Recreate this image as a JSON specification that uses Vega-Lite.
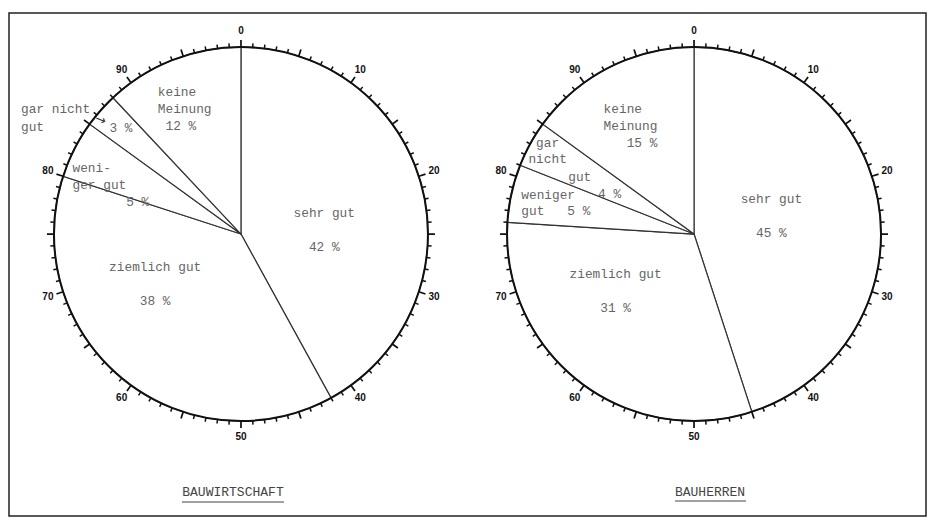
{
  "$schema": "https://vega.github.io/schema/vega-lite/v6.json",
  "width": 933,
  "height": 518,
  "autosize": {"type": "fit", "contains": "padding"},
  "padding": {"left": 9, "top": 13, "right": 7, "bottom": 2},
  "background": "white",
  "config": {"view": {"stroke": "#222", "strokeWidth": 1.5}},
  "datasets": {
    "slices": [
      {"group": "BAUWIRTSCHAFT", "cat": "sehr gut", "order": 1, "value": 42, "label": "sehr gut\n\u200b\n42 %", "label_z": "", "label_s": "", "label_w": "", "label_g": "", "label_g2": "", "label_g3": "", "outer": "", "arrow": ""},
      {"group": "BAUWIRTSCHAFT", "cat": "ziemlich gut", "order": 2, "value": 38, "label": "", "label_z": "ziemlich gut\n\u200b\n38 %", "label_s": "", "label_w": "", "label_g": "", "label_g2": "", "label_g3": "", "outer": "", "arrow": ""},
      {"group": "BAUWIRTSCHAFT", "cat": "weniger gut", "order": 3, "value": 5, "label": "weni-\u00a0\u00a0\u00a0\u00a0\u00a0\u200b\nger gut\u00a0\u00a0\u00a0\u200b\n\u200b\u00a0\u00a0\u00a0\u00a0\u00a0\u00a0\u00a05 %", "label_z": "", "label_s": "", "label_w": "", "label_g": "", "label_g2": "", "label_g3": "", "outer": "", "arrow": ""},
      {"group": "BAUWIRTSCHAFT", "cat": "gar nicht gut", "order": 4, "value": 3, "label": "3 %", "label_z": "", "label_s": "", "label_w": "", "label_g": "", "label_g2": "", "label_g3": "", "outer": "gar nicht\ngut\u00a0\u00a0\u00a0\u00a0\u00a0\u00a0\u200b", "arrow": "\u2192"},
      {"group": "BAUWIRTSCHAFT", "cat": "keine Meinung", "order": 5, "value": 12, "label": "keine\u00a0\u00a0\u200b\nMeinung\n\u200b\u00a012 %\u00a0\u00a0\u200b", "label_z": "", "label_s": "", "label_w": "", "label_g": "", "label_g2": "", "label_g3": "", "outer": "", "arrow": ""},
      {"group": "BAUHERREN", "cat": "sehr gut", "order": 1, "value": 45, "label": "", "label_z": "", "label_s": "sehr gut\n\u200b\n45 %", "label_w": "", "label_g": "", "label_g2": "", "label_g3": "", "outer": "", "arrow": ""},
      {"group": "BAUHERREN", "cat": "ziemlich gut", "order": 2, "value": 31, "label": "", "label_z": "ziemlich gut\n\u200b\n31 %", "label_s": "", "label_w": "", "label_g": "", "label_g2": "", "label_g3": "", "outer": "", "arrow": ""},
      {"group": "BAUHERREN", "cat": "weniger gut", "order": 3, "value": 5, "label": "", "label_z": "", "label_s": "", "label_w": "weniger\ngut\u00a0\u00a0\u00a05 %", "label_g": "", "label_g2": "", "label_g3": "", "outer": "", "arrow": ""},
      {"group": "BAUHERREN", "cat": "gar nicht gut", "order": 4, "value": 4, "label": "", "label_z": "", "label_s": "", "label_w": "", "label_g": "\u200b\u00a0gar\nnicht", "label_g2": "gut", "label_g3": "4 %", "outer": "", "arrow": ""},
      {"group": "BAUHERREN", "cat": "keine Meinung", "order": 5, "value": 15, "label": "keine\u00a0\u00a0\u200b\nMeinung\n\u200b\u00a0\u00a0\u00a015 %", "label_z": "", "label_s": "", "label_w": "", "label_g": "", "label_g2": "", "label_g3": "", "outer": "", "arrow": ""}
    ],
    "ticks": [
      {"t": 0}, {"t": 1}, {"t": 2}, {"t": 3}, {"t": 4}, {"t": 5}, {"t": 6}, {"t": 7}, {"t": 8}, {"t": 9},
      {"t": 10}, {"t": 11}, {"t": 12}, {"t": 13}, {"t": 14}, {"t": 15}, {"t": 16}, {"t": 17}, {"t": 18}, {"t": 19},
      {"t": 20}, {"t": 21}, {"t": 22}, {"t": 23}, {"t": 24}, {"t": 25}, {"t": 26}, {"t": 27}, {"t": 28}, {"t": 29},
      {"t": 30}, {"t": 31}, {"t": 32}, {"t": 33}, {"t": 34}, {"t": 35}, {"t": 36}, {"t": 37}, {"t": 38}, {"t": 39},
      {"t": 40}, {"t": 41}, {"t": 42}, {"t": 43}, {"t": 44}, {"t": 45}, {"t": 46}, {"t": 47}, {"t": 48}, {"t": 49},
      {"t": 50}, {"t": 51}, {"t": 52}, {"t": 53}, {"t": 54}, {"t": 55}, {"t": 56}, {"t": 57}, {"t": 58}, {"t": 59},
      {"t": 60}, {"t": 61}, {"t": 62}, {"t": 63}, {"t": 64}, {"t": 65}, {"t": 66}, {"t": 67}, {"t": 68}, {"t": 69},
      {"t": 70}, {"t": 71}, {"t": 72}, {"t": 73}, {"t": 74}, {"t": 75}, {"t": 76}, {"t": 77}, {"t": 78}, {"t": 79},
      {"t": 80}, {"t": 81}, {"t": 82}, {"t": 83}, {"t": 84}, {"t": 85}, {"t": 86}, {"t": 87}, {"t": 88}, {"t": 89},
      {"t": 90}, {"t": 91}, {"t": 92}, {"t": 93}, {"t": 94}, {"t": 95}, {"t": 96}, {"t": 97}, {"t": 98}, {"t": 99}
    ]
  },
  "layer": [
    {
      "encoding": {
        "x": {"datum": "BAUWIRTSCHAFT", "type": "nominal", "scale": {"type": "point", "domain": ["BAUWIRTSCHAFT", "BAUHERREN"], "padding": 0.512, "align": 0.5}, "axis": null},
        "y": {"datum": "pie", "type": "nominal", "scale": {"type": "point", "domain": ["pie", "title"], "padding": 0.475, "align": 0.902}, "axis": null}
      },
      "layer": [
        {
          "data": {"name": "slices"},
          "transform": [{"filter": {"field": "group", "equal": "BAUWIRTSCHAFT"}}],
          "mark": {"type": "arc", "radius": 187, "fill": "white", "stroke": "#333", "strokeWidth": 1.2},
          "encoding": {
            "theta": {"field": "value", "type": "quantitative", "stack": true, "scale": {"domain": [0, 100]}},
            "order": {"field": "order", "type": "quantitative"}
          }
        },
        {
          "data": {"values": [{"c": 1}]},
          "mark": {"type": "arc", "radius": 187, "theta": 0, "theta2": 6.2832, "fillOpacity": 0, "stroke": "#111", "strokeWidth": 2}
        },
        {
          "data": {"name": "ticks"},
          "transform": [{"filter": "datum.t % 5 != 0"}],
          "mark": {"type": "arc", "radius": 191, "radius2": 187, "thetaOffset": -0.004, "theta2Offset": 0.004, "fill": "#111"},
          "encoding": {"theta": {"field": "t", "type": "quantitative"}, "theta2": {"field": "t"}}
        },
        {
          "data": {"name": "ticks"},
          "transform": [{"filter": "datum.t % 5 == 0"}],
          "mark": {"type": "arc", "radius": 194, "radius2": 187, "thetaOffset": -0.0045, "theta2Offset": 0.0045, "fill": "#111"},
          "encoding": {"theta": {"field": "t", "type": "quantitative"}, "theta2": {"field": "t"}}
        },
        {
          "data": {"name": "ticks"},
          "transform": [{"filter": "datum.t % 10 == 0"}],
          "mark": {"type": "text", "radius": 203, "font": "Liberation Sans", "fontWeight": "bold", "fontSize": 10, "color": "#111", "baseline": "middle", "align": "center"},
          "encoding": {"theta": {"field": "t", "type": "quantitative"}, "text": {"field": "t", "type": "quantitative"}}
        },
        {
          "data": {"name": "slices"},
          "transform": [{"filter": {"field": "group", "equal": "BAUWIRTSCHAFT"}}],
          "mark": {"type": "text", "font": "Liberation Mono", "fontSize": 12.8, "color": "#666", "lineBreak": "\n", "lineHeight": 17, "baseline": "middle", "align": "center"},
          "encoding": {
            "theta": {"field": "value", "type": "quantitative", "stack": true},
            "order": {"field": "order", "type": "quantitative"},
            "radius": {"field": "value", "type": "quantitative", "scale": {"type": "linear", "zero": false, "domain": [3, 5, 12, 15, 45], "range": [160, 146, 153, 140, 80]}},
            "text": {"field": "label", "type": "nominal"}
          }
        },
        {
          "data": {"name": "slices"},
          "transform": [{"filter": {"field": "group", "equal": "BAUWIRTSCHAFT"}}],
          "mark": {"type": "text", "radius": 92, "thetaOffset": 0.51, "font": "Liberation Mono", "fontSize": 12.8, "color": "#666", "lineBreak": "\n", "lineHeight": 17, "baseline": "middle", "align": "center"},
          "encoding": {
            "theta": {"field": "value", "type": "quantitative", "stack": true},
            "order": {"field": "order", "type": "quantitative"},
            "text": {"field": "label_z", "type": "nominal"}
          }
        },
        {
          "data": {"name": "slices"},
          "transform": [{"filter": {"field": "group", "equal": "BAUWIRTSCHAFT"}}],
          "mark": {"type": "text", "radius": 196, "thetaOffset": -0.03, "font": "Liberation Mono", "fontSize": 12.8, "color": "#666", "lineBreak": "\n", "lineHeight": 18, "baseline": "middle", "align": "right"},
          "encoding": {
            "theta": {"field": "value", "type": "quantitative", "stack": true},
            "order": {"field": "order", "type": "quantitative"},
            "text": {"field": "outer", "type": "nominal"}
          }
        },
        {
          "data": {"name": "slices"},
          "transform": [{"filter": {"field": "group", "equal": "BAUWIRTSCHAFT"}}],
          "mark": {"type": "text", "radius": 181, "thetaOffset": -0.04, "angle": 22, "font": "DejaVu Sans", "fontSize": 13, "color": "#333", "baseline": "middle", "align": "center"},
          "encoding": {
            "theta": {"field": "value", "type": "quantitative", "stack": true},
            "order": {"field": "order", "type": "quantitative"},
            "text": {"field": "arrow", "type": "nominal"}
          }
        },
        {
          "data": {"values": [{"title": "BAUWIRTSCHAFT"}]},
          "mark": {"type": "text", "font": "Liberation Mono", "fontSize": 13, "color": "#444", "baseline": "middle", "align": "center", "dx": -8},
          "encoding": {
            "y": {"datum": "title", "type": "nominal"},
            "text": {"field": "title", "type": "nominal"}
          }
        },
        {
          "data": {"values": [{"title": "BAUWIRTSCHAFT"}]},
          "mark": {"type": "rule", "xOffset": -59, "x2Offset": 43, "yOffset": 10, "stroke": "#444", "strokeWidth": 1.2},
          "encoding": {
            "x2": {"datum": "BAUWIRTSCHAFT"},
            "y": {"datum": "title", "type": "nominal"}
          }
        }
      ]
    },
    {
      "encoding": {
        "x": {"datum": "BAUHERREN", "type": "nominal", "scale": {"type": "point", "domain": ["BAUWIRTSCHAFT", "BAUHERREN"], "padding": 0.512, "align": 0.5}, "axis": null},
        "y": {"datum": "pie", "type": "nominal", "scale": {"type": "point", "domain": ["pie", "title"], "padding": 0.475, "align": 0.902}, "axis": null}
      },
      "layer": [
        {
          "data": {"name": "slices"},
          "transform": [{"filter": {"field": "group", "equal": "BAUHERREN"}}],
          "mark": {"type": "arc", "radius": 187, "fill": "white", "stroke": "#333", "strokeWidth": 1.2},
          "encoding": {
            "theta": {"field": "value", "type": "quantitative", "stack": true, "scale": {"domain": [0, 100]}},
            "order": {"field": "order", "type": "quantitative"}
          }
        },
        {
          "data": {"values": [{"c": 1}]},
          "mark": {"type": "arc", "radius": 187, "theta": 0, "theta2": 6.2832, "fillOpacity": 0, "stroke": "#111", "strokeWidth": 2}
        },
        {
          "data": {"name": "ticks"},
          "transform": [{"filter": "datum.t % 5 != 0"}],
          "mark": {"type": "arc", "radius": 191, "radius2": 187, "thetaOffset": -0.004, "theta2Offset": 0.004, "fill": "#111"},
          "encoding": {"theta": {"field": "t", "type": "quantitative"}, "theta2": {"field": "t"}}
        },
        {
          "data": {"name": "ticks"},
          "transform": [{"filter": "datum.t % 5 == 0"}],
          "mark": {"type": "arc", "radius": 194, "radius2": 187, "thetaOffset": -0.0045, "theta2Offset": 0.0045, "fill": "#111"},
          "encoding": {"theta": {"field": "t", "type": "quantitative"}, "theta2": {"field": "t"}}
        },
        {
          "data": {"name": "ticks"},
          "transform": [{"filter": "datum.t % 10 == 0"}],
          "mark": {"type": "text", "radius": 203, "font": "Liberation Sans", "fontWeight": "bold", "fontSize": 10, "color": "#111", "baseline": "middle", "align": "center"},
          "encoding": {"theta": {"field": "t", "type": "quantitative"}, "text": {"field": "t", "type": "quantitative"}}
        },
        {
          "data": {"name": "slices"},
          "transform": [{"filter": {"field": "group", "equal": "BAUHERREN"}}],
          "mark": {"type": "text", "font": "Liberation Mono", "fontSize": 12.8, "color": "#666", "lineBreak": "\n", "lineHeight": 17, "baseline": "middle", "align": "center"},
          "encoding": {
            "theta": {"field": "value", "type": "quantitative", "stack": true},
            "order": {"field": "order", "type": "quantitative"},
            "radius": {"field": "value", "type": "quantitative", "scale": {"type": "linear", "zero": false, "domain": [3, 5, 12, 15, 45], "range": [160, 146, 153, 140, 80]}},
            "text": {"field": "label", "type": "nominal"}
          }
        },
        {
          "data": {"name": "slices"},
          "transform": [{"filter": {"field": "group", "equal": "BAUHERREN"}}],
          "mark": {"type": "text", "radius": 88, "thetaOffset": 0.44, "font": "Liberation Mono", "fontSize": 12.8, "color": "#666", "lineBreak": "\n", "lineHeight": 17, "baseline": "middle", "align": "center"},
          "encoding": {
            "theta": {"field": "value", "type": "quantitative", "stack": true},
            "order": {"field": "order", "type": "quantitative"},
            "text": {"field": "label_z", "type": "nominal"}
          }
        },
        {
          "data": {"name": "slices"},
          "transform": [{"filter": {"field": "group", "equal": "BAUHERREN"}}],
          "mark": {"type": "text", "radius": 85, "thetaOffset": -0.27, "font": "Liberation Mono", "fontSize": 12.8, "color": "#666", "lineBreak": "\n", "lineHeight": 17, "baseline": "middle", "align": "center"},
          "encoding": {
            "theta": {"field": "value", "type": "quantitative", "stack": true},
            "order": {"field": "order", "type": "quantitative"},
            "text": {"field": "label_s", "type": "nominal"}
          }
        },
        {
          "data": {"name": "slices"},
          "transform": [{"filter": {"field": "group", "equal": "BAUHERREN"}}],
          "mark": {"type": "text", "radius": 177, "font": "Liberation Mono", "fontSize": 12.8, "color": "#666", "lineBreak": "\n", "lineHeight": 16, "baseline": "middle", "align": "left"},
          "encoding": {
            "theta": {"field": "value", "type": "quantitative", "stack": true},
            "order": {"field": "order", "type": "quantitative"},
            "text": {"field": "label_w", "type": "nominal"}
          }
        },
        {
          "data": {"name": "slices"},
          "transform": [{"filter": {"field": "group", "equal": "BAUHERREN"}}],
          "mark": {"type": "text", "radius": 189, "font": "Liberation Mono", "fontSize": 12.8, "color": "#666", "lineBreak": "\n", "lineHeight": 16, "baseline": "middle", "align": "left"},
          "encoding": {
            "theta": {"field": "value", "type": "quantitative", "stack": true},
            "order": {"field": "order", "type": "quantitative"},
            "text": {"field": "label_g", "type": "nominal"}
          }
        },
        {
          "data": {"name": "slices"},
          "transform": [{"filter": {"field": "group", "equal": "BAUHERREN"}}],
          "mark": {"type": "text", "radius": 138, "thetaOffset": -0.0785, "font": "Liberation Mono", "fontSize": 12.8, "color": "#666", "baseline": "middle", "align": "left"},
          "encoding": {
            "theta": {"field": "value", "type": "quantitative", "stack": true},
            "order": {"field": "order", "type": "quantitative"},
            "text": {"field": "label_g2", "type": "nominal"}
          }
        },
        {
          "data": {"name": "slices"},
          "transform": [{"filter": {"field": "group", "equal": "BAUHERREN"}}],
          "mark": {"type": "text", "radius": 104, "thetaOffset": -0.107, "font": "Liberation Mono", "fontSize": 12.8, "color": "#666", "baseline": "middle", "align": "left"},
          "encoding": {
            "theta": {"field": "value", "type": "quantitative", "stack": true},
            "order": {"field": "order", "type": "quantitative"},
            "text": {"field": "label_g3", "type": "nominal"}
          }
        },
        {
          "data": {"values": [{"title": "BAUHERREN"}]},
          "mark": {"type": "text", "font": "Liberation Mono", "fontSize": 13, "color": "#444", "baseline": "middle", "align": "center", "dx": 16},
          "encoding": {
            "y": {"datum": "title", "type": "nominal"},
            "text": {"field": "title", "type": "nominal"}
          }
        },
        {
          "data": {"values": [{"title": "BAUHERREN"}]},
          "mark": {"type": "rule", "xOffset": -19, "x2Offset": 52, "yOffset": 9, "stroke": "#444", "strokeWidth": 1.2},
          "encoding": {
            "x2": {"datum": "BAUHERREN"},
            "y": {"datum": "title", "type": "nominal"}
          }
        }
      ]
    }
  ]
}
